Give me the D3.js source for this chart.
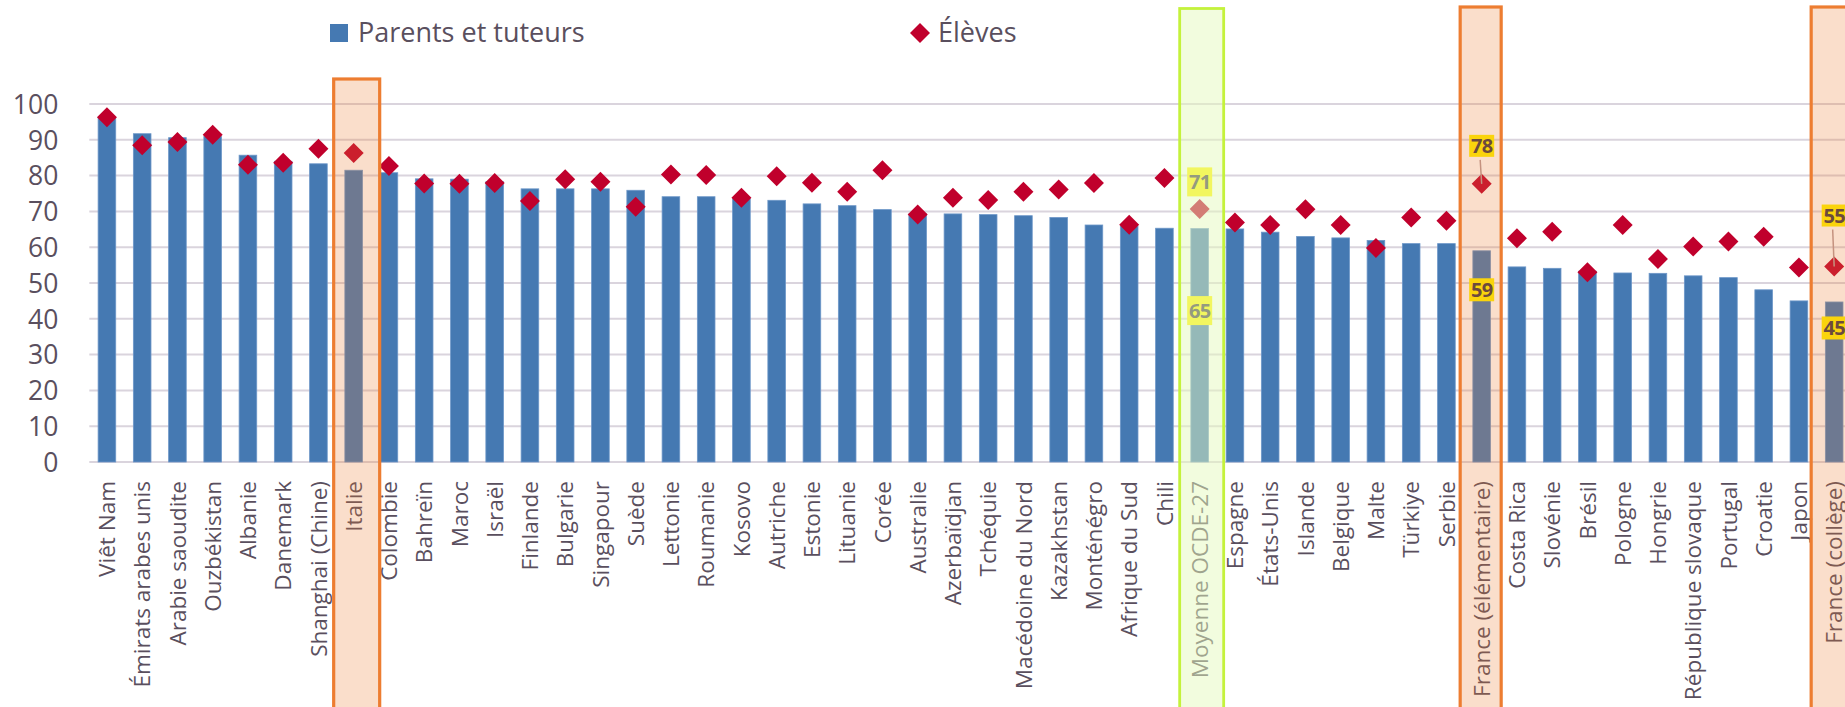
<!DOCTYPE html>
<html>
<head>
<meta charset="utf-8">
<script src="https://cdn.jsdelivr.net/npm/d3@7"></script>
<style>
  html, body { margin: 0; padding: 0; background: #ffffff; }
  svg { display: block; font-family: "Open Sans", "DejaVu Sans", sans-serif; }
</style>
</head>
<body>
<svg id="chart" width="1845" height="707"></svg>
<script>
// ---------- data ----------
const categories = [
  "Viêt Nam", "Émirats arabes unis", "Arabie saoudite", "Ouzbékistan", "Albanie",
  "Danemark", "Shanghai (Chine)", "Italie", "Colombie", "Bahreïn",
  "Maroc", "Israël", "Finlande", "Bulgarie", "Singapour",
  "Suède", "Lettonie", "Roumanie", "Kosovo", "Autriche",
  "Estonie", "Lituanie", "Corée", "Australie", "Azerbaïdjan",
  "Tchéquie", "Macédoine du Nord", "Kazakhstan", "Monténégro", "Afrique du Sud",
  "Chili", "Moyenne OCDE-27", "Espagne", "États-Unis", "Islande",
  "Belgique", "Malte", "Türkiye", "Serbie", "France (élémentaire)",
  "Costa Rica", "Slovénie", "Brésil", "Pologne", "Hongrie",
  "République slovaque", "Portugal", "Croatie", "Japon", "France (collège)"
];
const parents = [
  96.0, 91.7, 90.6, 90.9, 85.7,
  84.0, 83.3, 81.5, 80.8, 79.1,
  79.0, 78.3, 76.3, 76.3, 76.3,
  75.9, 74.1, 74.1, 73.5, 73.1,
  72.1, 71.6, 70.5, 69.3, 69.3,
  69.1, 68.8, 68.3, 66.2, 65.8,
  65.3, 65.2, 65.1, 64.2, 63.0,
  62.6, 61.9, 61.0, 61.0, 59.0,
  54.5, 54.1, 53.3, 52.8, 52.7,
  52.0, 51.5, 48.1, 45.0, 44.7
];
const eleves = [
  96.3, 88.5, 89.4, 91.4, 83.0,
  83.6, 87.5, 86.3, 82.7, 77.8,
  77.7, 77.9, 72.9, 79.0, 78.3,
  71.3, 80.3, 80.2, 73.8, 79.8,
  78.0, 75.5, 81.5, 69.1, 73.8,
  73.2, 75.5, 76.1, 77.9, 66.3,
  79.3, 70.7, 66.9, 66.2, 70.6,
  66.2, 59.8, 68.3, 67.4, 77.7,
  62.5, 64.3, 53.0, 66.2, 56.7,
  60.2, 61.6, 62.9, 54.3, 54.6
];
const yTicks = [0, 10, 20, 30, 40, 50, 60, 70, 80, 90, 100];
const seriesNames = ["Parents et tuteurs", "Élèves"];

// highlighted categories
const highlightOrange = ["Italie", "France (élémentaire)", "France (collège)"];
const highlightGreen = ["Moyenne OCDE-27"];
// labelled points: [category, series]
const labelled = [
  ["Moyenne OCDE-27", "eleves"], ["Moyenne OCDE-27", "parents"],
  ["France (élémentaire)", "eleves"], ["France (élémentaire)", "parents"],
  ["France (collège)", "eleves"], ["France (collège)", "parents"]
];

// ---------- styles / layout ----------
const W = 1845, H = 707;
const plotLeft = 89.3, plotRight = 89.3 + 50 * 35.25;
const yZero = 462, yTop = 104;
const BLUE = "#4579B2", RED = "#C0002C", GRID = "#DAD4DD", TXT = "#5A4F5E";

const svg = d3.select("#chart");

const x = d3.scaleBand().domain(categories).range([plotLeft, plotRight])
  .paddingInner(0.5).paddingOuter(0.25);
const y = d3.scaleLinear().domain([0, 100]).range([yZero, yTop]);
const step = x.step();
const cx = c => x(c) + x.bandwidth() / 2;

// gridlines
svg.append("g").selectAll("line").data(yTicks).join("line")
  .attr("x1", plotLeft).attr("x2", W)
  .attr("y1", d => y(d)).attr("y2", d => y(d))
  .attr("stroke", GRID).attr("stroke-width", 2);

// y axis labels
const yAxis = d3.axisLeft(y).tickValues(yTicks).tickSize(0).tickPadding(0);
const yg = svg.append("g").attr("transform", `translate(${plotLeft - 31},0)`).call(yAxis);
yg.select(".domain").remove();
yg.selectAll("text").attr("font-size", 26.5).attr("fill", TXT)
  .attr("font-family", "'Open Sans', sans-serif").attr("dy", "0.35em");

// bars
svg.append("g").selectAll("rect").data(categories).join("rect")
  .attr("x", d => x(d)).attr("width", x.bandwidth())
  .attr("y", (d, i) => y(parents[i])).attr("height", (d, i) => y(0) - y(parents[i]))
  .attr("fill", BLUE).attr("stroke", "#6D97C8").attr("stroke-width", 0.8);

// diamonds
const dHalf = 10;
const diamond = (px, py) => `M${px},${py - dHalf}L${px + dHalf},${py}L${px},${py + dHalf}L${px - dHalf},${py}Z`;
svg.append("g").selectAll("path").data(categories).join("path")
  .attr("d", (d, i) => diamond(cx(d), y(eleves[i])))
  .attr("fill", RED);

// x labels
const xAxis = d3.axisBottom(x).tickSize(0).tickPadding(0);
const xg = svg.append("g").attr("transform", `translate(0,${yZero + 19})`).call(xAxis);
xg.select(".domain").remove();
xg.selectAll("text")
  .attr("font-size", 22.5).attr("fill", TXT).attr("font-family", "'Open Sans', sans-serif")
  .attr("text-anchor", "end").attr("transform", "rotate(-90)")
  .attr("x", 0).attr("y", 0).attr("dy", "0.36em");

// data labels (yellow)
const labelOffsets = {
  "Moyenne OCDE-27|eleves": { dy: -27, h: 29, leader: false },
  "Moyenne OCDE-27|parents": { dy: 82, h: 29, leader: false },
  "France (élémentaire)|eleves": { dy: -38, h: 22, leader: true },
  "France (élémentaire)|parents": { dy: 39, h: 23, leader: false },
  "France (collège)|eleves": { dy: -51, h: 22, leader: true },
  "France (collège)|parents": { dy: 26, h: 23, leader: false }
};
const lg = svg.append("g");
labelled.forEach(([cat, ser]) => {
  const i = categories.indexOf(cat);
  const v = ser === "eleves" ? eleves[i] : parents[i];
  const o = labelOffsets[cat + "|" + ser];
  const px = cx(cat), py = y(v);
  const ly = py + o.dy;
  if (o.leader) {
    lg.append("line").attr("x1", px - 1.5).attr("y1", ly + o.h / 2 + 3)
      .attr("x2", px).attr("y2", py).attr("stroke", "#B89A9A").attr("stroke-width", 1.5);
  }
  lg.append("rect").attr("x", px - 12.5).attr("y", ly - o.h / 2)
    .attr("width", 25).attr("height", o.h).attr("fill", "#FFF200");
  lg.append("text").attr("x", px).attr("y", ly).attr("dy", "0.36em")
    .attr("text-anchor", "middle").attr("font-size", 20).attr("font-weight", "bold")
    .attr("letter-spacing", -0.8).attr("fill", "#423A42").text(Math.round(v));
});

// highlight boxes (drawn on top, semi-transparent)
const boxStyle = {
  "Italie": { top: 79, w: 46, shift: 3 },
  "France (élémentaire)": { top: 7, w: 41, shift: -1 },
  "France (collège)": { top: 7, w: 46, shift: 0 },
  "Moyenne OCDE-27": { top: 8.5, w: 44, shift: 2 }
};
const og = svg.append("g");
highlightOrange.forEach(c => {
  const s = boxStyle[c];
  og.append("rect").attr("x", cx(c) - s.w / 2 + s.shift).attr("y", s.top)
    .attr("width", s.w).attr("height", H + 20 - s.top)
    .attr("fill", "rgba(237,125,49,0.25)").attr("stroke", "#ED7D31").attr("stroke-width", 3.2);
});
highlightGreen.forEach(c => {
  const s = boxStyle[c];
  og.append("rect").attr("x", cx(c) - s.w / 2 + s.shift).attr("y", s.top)
    .attr("width", s.w).attr("height", H + 20)
    .attr("fill", "rgba(230,250,190,0.5)").attr("stroke", "#C4F23C").attr("stroke-width", 2.8);
});

// legend
const leg = svg.append("g");
leg.append("rect").attr("x", 330).attr("y", 24).attr("width", 18).attr("height", 18).attr("fill", BLUE);
leg.append("text").attr("x", 358).attr("y", 42).attr("font-size", 27).attr("fill", TXT).text(seriesNames[0]);
leg.append("path").attr("d", diamond(920, 33)).attr("fill", RED);
leg.append("text").attr("x", 938).attr("y", 42).attr("font-size", 27).attr("fill", TXT).text(seriesNames[1]);
</script>
</body>
</html>
